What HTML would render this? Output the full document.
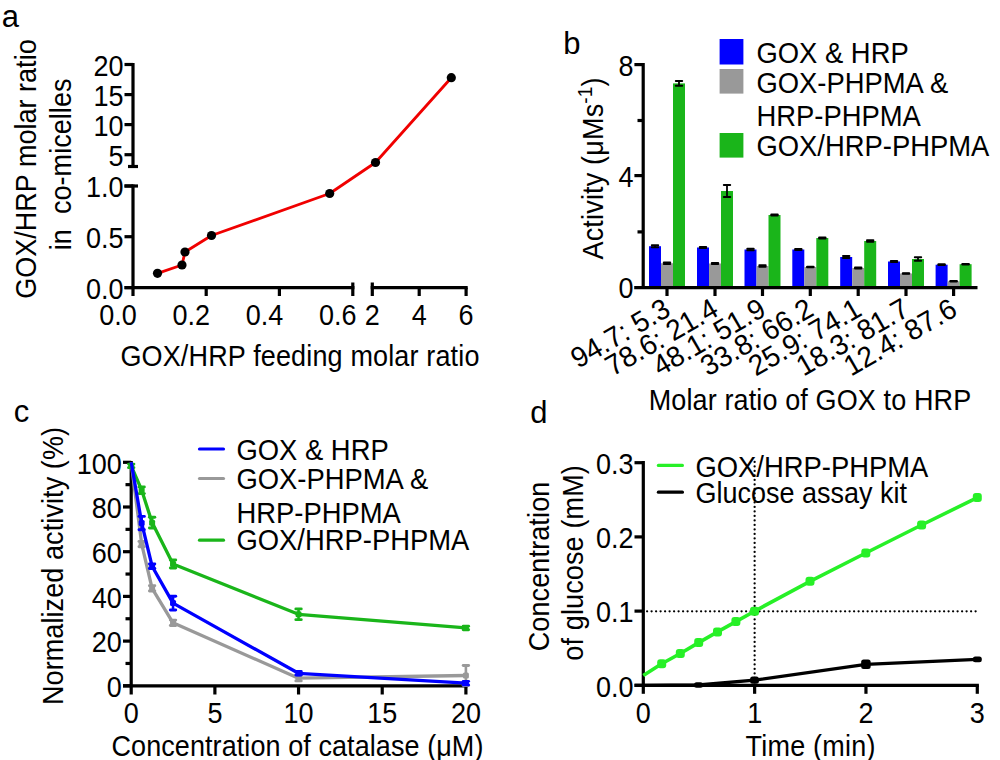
<!DOCTYPE html>
<html><head><meta charset="utf-8"><style>
html,body{margin:0;padding:0;background:#fff;width:1000px;height:760px;overflow:hidden}
svg{display:block}
text{font-family:"Liberation Sans",sans-serif}
</style></head><body>
<svg width="1000" height="760" viewBox="0 0 1000 760" fill="#000">
<rect width="1000" height="760" fill="#fff"/>
<text transform="translate(1.80,27.20)" font-size="31" text-anchor="start" >a</text>
<text transform="translate(563.30,54.40)" font-size="31" text-anchor="start" >b</text>
<text transform="translate(13.80,422.00)" font-size="31" text-anchor="start" >c</text>
<text transform="translate(530.30,422.60)" font-size="31" text-anchor="start" >d</text>
<line x1="133.00" y1="63.00" x2="133.00" y2="168.00" stroke="#000" stroke-width="3.2" stroke-linecap="butt" />
<line x1="128.00" y1="166.50" x2="138.00" y2="166.50" stroke="#000" stroke-width="3.2" stroke-linecap="butt" />
<line x1="124.50" y1="64.50" x2="133.00" y2="64.50" stroke="#000" stroke-width="3.2" stroke-linecap="butt" />
<text transform="translate(123.50,75.80) scale(1,1.07)" font-size="27" text-anchor="end" >20</text>
<line x1="124.50" y1="94.60" x2="133.00" y2="94.60" stroke="#000" stroke-width="3.2" stroke-linecap="butt" />
<text transform="translate(123.50,105.90) scale(1,1.07)" font-size="27" text-anchor="end" >15</text>
<line x1="124.50" y1="124.60" x2="133.00" y2="124.60" stroke="#000" stroke-width="3.2" stroke-linecap="butt" />
<text transform="translate(123.50,135.90) scale(1,1.07)" font-size="27" text-anchor="end" >10</text>
<line x1="124.50" y1="154.70" x2="133.00" y2="154.70" stroke="#000" stroke-width="3.2" stroke-linecap="butt" />
<text transform="translate(123.50,166.00) scale(1,1.07)" font-size="27" text-anchor="end" >5</text>
<line x1="133.00" y1="184.50" x2="133.00" y2="296.00" stroke="#000" stroke-width="3.2" stroke-linecap="butt" />
<line x1="124.50" y1="186.00" x2="138.00" y2="186.00" stroke="#000" stroke-width="3.2" stroke-linecap="butt" />
<line x1="124.50" y1="186.00" x2="133.00" y2="186.00" stroke="#000" stroke-width="3.2" stroke-linecap="butt" />
<text transform="translate(123.50,197.00) scale(1,1.07)" font-size="27" text-anchor="end" >1.0</text>
<line x1="124.50" y1="236.70" x2="133.00" y2="236.70" stroke="#000" stroke-width="3.2" stroke-linecap="butt" />
<text transform="translate(123.50,247.70) scale(1,1.07)" font-size="27" text-anchor="end" >0.5</text>
<line x1="124.50" y1="287.60" x2="133.00" y2="287.60" stroke="#000" stroke-width="3.2" stroke-linecap="butt" />
<text transform="translate(123.50,298.60) scale(1,1.07)" font-size="27" text-anchor="end" >0.0</text>
<line x1="124.50" y1="287.60" x2="354.40" y2="287.60" stroke="#000" stroke-width="3.2" stroke-linecap="butt" />
<line x1="352.80" y1="282.50" x2="352.80" y2="296.00" stroke="#000" stroke-width="3.2" stroke-linecap="butt" />
<line x1="370.70" y1="287.60" x2="467.70" y2="287.60" stroke="#000" stroke-width="3.2" stroke-linecap="butt" />
<line x1="372.30" y1="282.50" x2="372.30" y2="296.00" stroke="#000" stroke-width="3.2" stroke-linecap="butt" />
<line x1="206.20" y1="287.60" x2="206.20" y2="296.00" stroke="#000" stroke-width="3.2" stroke-linecap="butt" />
<line x1="279.40" y1="287.60" x2="279.40" y2="296.00" stroke="#000" stroke-width="3.2" stroke-linecap="butt" />
<line x1="419.20" y1="287.60" x2="419.20" y2="296.00" stroke="#000" stroke-width="3.2" stroke-linecap="butt" />
<line x1="466.10" y1="287.60" x2="466.10" y2="296.00" stroke="#000" stroke-width="3.2" stroke-linecap="butt" />
<text transform="translate(136.80,324.50) scale(1,1.07)" font-size="27" text-anchor="end" >0.0</text>
<text transform="translate(210.00,324.50) scale(1,1.07)" font-size="27" text-anchor="end" >0.2</text>
<text transform="translate(283.20,324.50) scale(1,1.07)" font-size="27" text-anchor="end" >0.4</text>
<text transform="translate(356.40,324.50) scale(1,1.07)" font-size="27" text-anchor="end" >0.6</text>
<text transform="translate(372.30,324.50) scale(1,1.07)" font-size="27" text-anchor="middle" >2</text>
<text transform="translate(419.20,324.50) scale(1,1.07)" font-size="27" text-anchor="middle" >4</text>
<text transform="translate(466.10,324.50) scale(1,1.07)" font-size="27" text-anchor="middle" >6</text>
<text transform="translate(120.40,365.50) scale(1,1.06)" font-size="27" text-anchor="start" textLength="359" lengthAdjust="spacing">GOX/HRP feeding molar ratio</text>
<text transform="translate(36.10,298.80) rotate(-90) scale(1,1.06)" font-size="27" text-anchor="start" textLength="259.5" lengthAdjust="spacing">GOX/HRP molar ratio</text>
<text transform="translate(70.50,250.30) rotate(-90) scale(1,1.06)" font-size="27" text-anchor="start" textLength="171.8" lengthAdjust="spacing">in&#160;&#160;co-micelles</text>
<polyline points="157.5,273.3 182,265 185,252 211.5,235.5 329.7,193.5 375.5,162.5 451.3,77.7" fill="none" stroke="#f00000" stroke-width="2.8" stroke-linejoin="round"/>
<circle cx="157.5" cy="273.3" r="4.6" fill="#000"/>
<circle cx="182" cy="265" r="4.6" fill="#000"/>
<circle cx="185" cy="252" r="4.6" fill="#000"/>
<circle cx="211.5" cy="235.5" r="4.6" fill="#000"/>
<circle cx="329.7" cy="193.5" r="4.6" fill="#000"/>
<circle cx="375.5" cy="162.5" r="4.6" fill="#000"/>
<circle cx="451.3" cy="77.7" r="4.6" fill="#000"/>
<line x1="643.20" y1="63.00" x2="643.20" y2="287.60" stroke="#000" stroke-width="3.2" stroke-linecap="butt" />
<line x1="634.40" y1="64.60" x2="643.20" y2="64.60" stroke="#000" stroke-width="3.2" stroke-linecap="butt" />
<line x1="637.50" y1="120.50" x2="643.20" y2="120.50" stroke="#000" stroke-width="3.2" stroke-linecap="butt" />
<line x1="634.40" y1="175.60" x2="643.20" y2="175.60" stroke="#000" stroke-width="3.2" stroke-linecap="butt" />
<line x1="637.50" y1="231.90" x2="643.20" y2="231.90" stroke="#000" stroke-width="3.2" stroke-linecap="butt" />
<text transform="translate(633.50,75.80) scale(1,1.07)" font-size="27" text-anchor="end" >8</text>
<text transform="translate(633.50,186.60) scale(1,1.07)" font-size="27" text-anchor="end" >4</text>
<text transform="translate(633.50,298.40) scale(1,1.07)" font-size="27" text-anchor="end" >0</text>
<line x1="634.20" y1="287.60" x2="977.50" y2="287.60" stroke="#000" stroke-width="3.2" stroke-linecap="butt" />
<rect x="649.00" y="246.20" width="12.00" height="39.80" rx="0" fill="#0000ff"/>
<line x1="655.00" y1="245.20" x2="655.00" y2="247.20" stroke="#000" stroke-width="1.8" stroke-linecap="butt" />
<line x1="651.80" y1="245.20" x2="658.20" y2="245.20" stroke="#000" stroke-width="2" stroke-linecap="round" />
<line x1="651.80" y1="247.20" x2="658.20" y2="247.20" stroke="#000" stroke-width="2" stroke-linecap="round" />
<rect x="661.00" y="263.20" width="12.00" height="22.80" rx="0" fill="#999999"/>
<line x1="667.00" y1="262.45" x2="667.00" y2="263.95" stroke="#000" stroke-width="1.8" stroke-linecap="butt" />
<line x1="663.80" y1="262.45" x2="670.20" y2="262.45" stroke="#000" stroke-width="2" stroke-linecap="round" />
<line x1="663.80" y1="263.95" x2="670.20" y2="263.95" stroke="#000" stroke-width="2" stroke-linecap="round" />
<rect x="673.00" y="83.40" width="12.00" height="202.60" rx="0" fill="#1ab51a"/>
<line x1="679.00" y1="81.00" x2="679.00" y2="85.80" stroke="#000" stroke-width="1.8" stroke-linecap="butt" />
<line x1="675.80" y1="81.00" x2="682.20" y2="81.00" stroke="#000" stroke-width="2" stroke-linecap="round" />
<line x1="675.80" y1="85.80" x2="682.20" y2="85.80" stroke="#000" stroke-width="2" stroke-linecap="round" />
<line x1="667.00" y1="287.60" x2="667.00" y2="296.00" stroke="#000" stroke-width="3.2" stroke-linecap="butt" />
<rect x="697.00" y="247.50" width="12.00" height="38.50" rx="0" fill="#0000ff"/>
<line x1="703.00" y1="247.00" x2="703.00" y2="248.00" stroke="#000" stroke-width="1.8" stroke-linecap="butt" />
<line x1="699.80" y1="247.00" x2="706.20" y2="247.00" stroke="#000" stroke-width="2" stroke-linecap="round" />
<line x1="699.80" y1="248.00" x2="706.20" y2="248.00" stroke="#000" stroke-width="2" stroke-linecap="round" />
<rect x="709.00" y="263.50" width="12.00" height="22.50" rx="0" fill="#999999"/>
<line x1="715.00" y1="263.00" x2="715.00" y2="264.00" stroke="#000" stroke-width="1.8" stroke-linecap="butt" />
<line x1="711.80" y1="263.00" x2="718.20" y2="263.00" stroke="#000" stroke-width="2" stroke-linecap="round" />
<line x1="711.80" y1="264.00" x2="718.20" y2="264.00" stroke="#000" stroke-width="2" stroke-linecap="round" />
<rect x="721.00" y="191.00" width="12.00" height="95.00" rx="0" fill="#1ab51a"/>
<line x1="727.00" y1="185.00" x2="727.00" y2="197.00" stroke="#000" stroke-width="1.8" stroke-linecap="butt" />
<line x1="723.80" y1="185.00" x2="730.20" y2="185.00" stroke="#000" stroke-width="2" stroke-linecap="round" />
<line x1="723.80" y1="197.00" x2="730.20" y2="197.00" stroke="#000" stroke-width="2" stroke-linecap="round" />
<line x1="715.00" y1="287.60" x2="715.00" y2="296.00" stroke="#000" stroke-width="3.2" stroke-linecap="butt" />
<rect x="744.50" y="249.50" width="12.00" height="36.50" rx="0" fill="#0000ff"/>
<line x1="750.50" y1="248.75" x2="750.50" y2="250.25" stroke="#000" stroke-width="1.8" stroke-linecap="butt" />
<line x1="747.30" y1="248.75" x2="753.70" y2="248.75" stroke="#000" stroke-width="2" stroke-linecap="round" />
<line x1="747.30" y1="250.25" x2="753.70" y2="250.25" stroke="#000" stroke-width="2" stroke-linecap="round" />
<rect x="756.50" y="266.00" width="12.00" height="20.00" rx="0" fill="#999999"/>
<line x1="762.50" y1="265.25" x2="762.50" y2="266.75" stroke="#000" stroke-width="1.8" stroke-linecap="butt" />
<line x1="759.30" y1="265.25" x2="765.70" y2="265.25" stroke="#000" stroke-width="2" stroke-linecap="round" />
<line x1="759.30" y1="266.75" x2="765.70" y2="266.75" stroke="#000" stroke-width="2" stroke-linecap="round" />
<rect x="768.50" y="215.00" width="12.00" height="71.00" rx="0" fill="#1ab51a"/>
<line x1="774.50" y1="214.50" x2="774.50" y2="215.50" stroke="#000" stroke-width="1.8" stroke-linecap="butt" />
<line x1="771.30" y1="214.50" x2="777.70" y2="214.50" stroke="#000" stroke-width="2" stroke-linecap="round" />
<line x1="771.30" y1="215.50" x2="777.70" y2="215.50" stroke="#000" stroke-width="2" stroke-linecap="round" />
<line x1="762.50" y1="287.60" x2="762.50" y2="296.00" stroke="#000" stroke-width="3.2" stroke-linecap="butt" />
<rect x="792.30" y="249.50" width="12.00" height="36.50" rx="0" fill="#0000ff"/>
<line x1="798.30" y1="249.00" x2="798.30" y2="250.00" stroke="#000" stroke-width="1.8" stroke-linecap="butt" />
<line x1="795.10" y1="249.00" x2="801.50" y2="249.00" stroke="#000" stroke-width="2" stroke-linecap="round" />
<line x1="795.10" y1="250.00" x2="801.50" y2="250.00" stroke="#000" stroke-width="2" stroke-linecap="round" />
<rect x="804.30" y="267.00" width="12.00" height="19.00" rx="0" fill="#999999"/>
<line x1="810.30" y1="266.75" x2="810.30" y2="267.25" stroke="#000" stroke-width="1.8" stroke-linecap="butt" />
<line x1="807.10" y1="266.75" x2="813.50" y2="266.75" stroke="#000" stroke-width="2" stroke-linecap="round" />
<line x1="807.10" y1="267.25" x2="813.50" y2="267.25" stroke="#000" stroke-width="2" stroke-linecap="round" />
<rect x="816.30" y="238.00" width="12.00" height="48.00" rx="0" fill="#1ab51a"/>
<line x1="822.30" y1="237.50" x2="822.30" y2="238.50" stroke="#000" stroke-width="1.8" stroke-linecap="butt" />
<line x1="819.10" y1="237.50" x2="825.50" y2="237.50" stroke="#000" stroke-width="2" stroke-linecap="round" />
<line x1="819.10" y1="238.50" x2="825.50" y2="238.50" stroke="#000" stroke-width="2" stroke-linecap="round" />
<line x1="810.30" y1="287.60" x2="810.30" y2="296.00" stroke="#000" stroke-width="3.2" stroke-linecap="butt" />
<rect x="840.20" y="257.00" width="12.00" height="29.00" rx="0" fill="#0000ff"/>
<line x1="846.20" y1="256.00" x2="846.20" y2="258.00" stroke="#000" stroke-width="1.8" stroke-linecap="butt" />
<line x1="843.00" y1="256.00" x2="849.40" y2="256.00" stroke="#000" stroke-width="2" stroke-linecap="round" />
<line x1="843.00" y1="258.00" x2="849.40" y2="258.00" stroke="#000" stroke-width="2" stroke-linecap="round" />
<rect x="852.20" y="268.00" width="12.00" height="18.00" rx="0" fill="#999999"/>
<line x1="858.20" y1="267.50" x2="858.20" y2="268.50" stroke="#000" stroke-width="1.8" stroke-linecap="butt" />
<line x1="855.00" y1="267.50" x2="861.40" y2="267.50" stroke="#000" stroke-width="2" stroke-linecap="round" />
<line x1="855.00" y1="268.50" x2="861.40" y2="268.50" stroke="#000" stroke-width="2" stroke-linecap="round" />
<rect x="864.20" y="241.00" width="12.00" height="45.00" rx="0" fill="#1ab51a"/>
<line x1="870.20" y1="240.25" x2="870.20" y2="241.75" stroke="#000" stroke-width="1.8" stroke-linecap="butt" />
<line x1="867.00" y1="240.25" x2="873.40" y2="240.25" stroke="#000" stroke-width="2" stroke-linecap="round" />
<line x1="867.00" y1="241.75" x2="873.40" y2="241.75" stroke="#000" stroke-width="2" stroke-linecap="round" />
<line x1="858.20" y1="287.60" x2="858.20" y2="296.00" stroke="#000" stroke-width="3.2" stroke-linecap="butt" />
<rect x="888.00" y="261.50" width="12.00" height="24.50" rx="0" fill="#0000ff"/>
<line x1="894.00" y1="261.00" x2="894.00" y2="262.00" stroke="#000" stroke-width="1.8" stroke-linecap="butt" />
<line x1="890.80" y1="261.00" x2="897.20" y2="261.00" stroke="#000" stroke-width="2" stroke-linecap="round" />
<line x1="890.80" y1="262.00" x2="897.20" y2="262.00" stroke="#000" stroke-width="2" stroke-linecap="round" />
<rect x="900.00" y="273.50" width="12.00" height="12.50" rx="0" fill="#999999"/>
<line x1="906.00" y1="273.25" x2="906.00" y2="273.75" stroke="#000" stroke-width="1.8" stroke-linecap="butt" />
<line x1="902.80" y1="273.25" x2="909.20" y2="273.25" stroke="#000" stroke-width="2" stroke-linecap="round" />
<line x1="902.80" y1="273.75" x2="909.20" y2="273.75" stroke="#000" stroke-width="2" stroke-linecap="round" />
<rect x="912.00" y="259.00" width="12.00" height="27.00" rx="0" fill="#1ab51a"/>
<line x1="918.00" y1="257.25" x2="918.00" y2="260.75" stroke="#000" stroke-width="1.8" stroke-linecap="butt" />
<line x1="914.80" y1="257.25" x2="921.20" y2="257.25" stroke="#000" stroke-width="2" stroke-linecap="round" />
<line x1="914.80" y1="260.75" x2="921.20" y2="260.75" stroke="#000" stroke-width="2" stroke-linecap="round" />
<line x1="906.00" y1="287.60" x2="906.00" y2="296.00" stroke="#000" stroke-width="3.2" stroke-linecap="butt" />
<rect x="935.60" y="264.70" width="12.00" height="21.30" rx="0" fill="#0000ff"/>
<line x1="941.60" y1="264.35" x2="941.60" y2="265.05" stroke="#000" stroke-width="1.8" stroke-linecap="butt" />
<line x1="938.40" y1="264.35" x2="944.80" y2="264.35" stroke="#000" stroke-width="2" stroke-linecap="round" />
<line x1="938.40" y1="265.05" x2="944.80" y2="265.05" stroke="#000" stroke-width="2" stroke-linecap="round" />
<rect x="947.60" y="281.30" width="12.00" height="4.70" rx="0" fill="#999999"/>
<line x1="953.60" y1="281.05" x2="953.60" y2="281.55" stroke="#000" stroke-width="1.8" stroke-linecap="butt" />
<line x1="950.40" y1="281.05" x2="956.80" y2="281.05" stroke="#000" stroke-width="2" stroke-linecap="round" />
<line x1="950.40" y1="281.55" x2="956.80" y2="281.55" stroke="#000" stroke-width="2" stroke-linecap="round" />
<rect x="959.60" y="264.20" width="12.00" height="21.80" rx="0" fill="#1ab51a"/>
<line x1="965.60" y1="264.00" x2="965.60" y2="264.40" stroke="#000" stroke-width="1.8" stroke-linecap="butt" />
<line x1="962.40" y1="264.00" x2="968.80" y2="264.00" stroke="#000" stroke-width="2" stroke-linecap="round" />
<line x1="962.40" y1="264.40" x2="968.80" y2="264.40" stroke="#000" stroke-width="2" stroke-linecap="round" />
<line x1="953.60" y1="287.60" x2="953.60" y2="296.00" stroke="#000" stroke-width="3.2" stroke-linecap="butt" />
<rect x="719.60" y="39.00" width="23.80" height="25.50" rx="0" fill="#0000ff"/>
<rect x="719.60" y="69.00" width="23.80" height="24.60" rx="0" fill="#999999"/>
<rect x="719.60" y="133.00" width="23.80" height="24.60" rx="0" fill="#1ab51a"/>
<text transform="translate(756.50,63.00) scale(1,1.06)" font-size="27.4" text-anchor="start" >GOX &amp; HRP</text>
<text transform="translate(756.50,92.50) scale(1,1.06)" font-size="27.4" text-anchor="start" >GOX-PHPMA &amp;</text>
<text transform="translate(756.50,125.80) scale(1,1.06)" font-size="27.4" text-anchor="start" >HRP-PHPMA</text>
<text transform="translate(756.50,156.40) scale(1,1.06)" font-size="27.4" text-anchor="start" >GOX/HRP-PHPMA</text>
<text transform="translate(603.10,259.50) rotate(-90) scale(1,1.06)" font-size="27" text-anchor="start" textLength="182.1" lengthAdjust="spacing">Activity (μMs<tspan font-size="19" dy="-10.5">-1</tspan><tspan dy="10.5">)</tspan></text>
<text transform="translate(672.30,314.50) rotate(-30) scale(1,1.03)" font-size="28" text-anchor="end" >94.7: 5.3</text>
<text transform="translate(720.30,314.50) rotate(-30) scale(1,1.03)" font-size="28" text-anchor="end" >78.6: 21.4</text>
<text transform="translate(767.80,314.50) rotate(-30) scale(1,1.03)" font-size="28" text-anchor="end" >48.1: 51.9</text>
<text transform="translate(815.60,314.50) rotate(-30) scale(1,1.03)" font-size="28" text-anchor="end" >33.8: 66.2</text>
<text transform="translate(863.50,314.50) rotate(-30) scale(1,1.03)" font-size="28" text-anchor="end" >25.9: 74.1</text>
<text transform="translate(911.30,314.50) rotate(-30) scale(1,1.03)" font-size="28" text-anchor="end" >18.3: 81.7</text>
<text transform="translate(958.90,314.50) rotate(-30) scale(1,1.03)" font-size="28" text-anchor="end" >12.4: 87.6</text>
<text transform="translate(648.70,410.20) scale(1,1.06)" font-size="27" text-anchor="start" textLength="322.5" lengthAdjust="spacing">Molar ratio of GOX to HRP</text>
<line x1="131.20" y1="461.00" x2="131.20" y2="694.50" stroke="#000" stroke-width="3.2" stroke-linecap="butt" />
<line x1="123.00" y1="685.80" x2="131.20" y2="685.80" stroke="#000" stroke-width="3.2" stroke-linecap="butt" />
<text transform="translate(121.80,697.10) scale(1,1.07)" font-size="27" text-anchor="end" >0</text>
<line x1="125.50" y1="663.45" x2="131.20" y2="663.45" stroke="#000" stroke-width="3.2" stroke-linecap="butt" />
<line x1="123.00" y1="641.10" x2="131.20" y2="641.10" stroke="#000" stroke-width="3.2" stroke-linecap="butt" />
<text transform="translate(121.80,652.40) scale(1,1.07)" font-size="27" text-anchor="end" >20</text>
<line x1="125.50" y1="618.75" x2="131.20" y2="618.75" stroke="#000" stroke-width="3.2" stroke-linecap="butt" />
<line x1="123.00" y1="596.40" x2="131.20" y2="596.40" stroke="#000" stroke-width="3.2" stroke-linecap="butt" />
<text transform="translate(121.80,607.70) scale(1,1.07)" font-size="27" text-anchor="end" >40</text>
<line x1="125.50" y1="574.05" x2="131.20" y2="574.05" stroke="#000" stroke-width="3.2" stroke-linecap="butt" />
<line x1="123.00" y1="551.70" x2="131.20" y2="551.70" stroke="#000" stroke-width="3.2" stroke-linecap="butt" />
<text transform="translate(121.80,563.00) scale(1,1.07)" font-size="27" text-anchor="end" >60</text>
<line x1="125.50" y1="529.35" x2="131.20" y2="529.35" stroke="#000" stroke-width="3.2" stroke-linecap="butt" />
<line x1="123.00" y1="507.00" x2="131.20" y2="507.00" stroke="#000" stroke-width="3.2" stroke-linecap="butt" />
<text transform="translate(121.80,518.30) scale(1,1.07)" font-size="27" text-anchor="end" >80</text>
<line x1="125.50" y1="484.65" x2="131.20" y2="484.65" stroke="#000" stroke-width="3.2" stroke-linecap="butt" />
<line x1="123.00" y1="462.30" x2="131.20" y2="462.30" stroke="#000" stroke-width="3.2" stroke-linecap="butt" />
<text transform="translate(121.80,473.60) scale(1,1.07)" font-size="27" text-anchor="end" >100</text>
<line x1="123.00" y1="685.80" x2="467.50" y2="685.80" stroke="#000" stroke-width="3.2" stroke-linecap="butt" />
<line x1="214.88" y1="685.80" x2="214.88" y2="694.50" stroke="#000" stroke-width="3.2" stroke-linecap="butt" />
<line x1="298.55" y1="685.80" x2="298.55" y2="694.50" stroke="#000" stroke-width="3.2" stroke-linecap="butt" />
<line x1="382.22" y1="685.80" x2="382.22" y2="694.50" stroke="#000" stroke-width="3.2" stroke-linecap="butt" />
<line x1="465.90" y1="685.80" x2="465.90" y2="694.50" stroke="#000" stroke-width="3.2" stroke-linecap="butt" />
<text transform="translate(131.20,723.10) scale(1,1.07)" font-size="27" text-anchor="middle" >0</text>
<text transform="translate(214.88,723.10) scale(1,1.07)" font-size="27" text-anchor="middle" >5</text>
<text transform="translate(298.55,723.10) scale(1,1.07)" font-size="27" text-anchor="middle" >10</text>
<text transform="translate(382.22,723.10) scale(1,1.07)" font-size="27" text-anchor="middle" >15</text>
<text transform="translate(465.90,723.10) scale(1,1.07)" font-size="27" text-anchor="middle" >20</text>
<text transform="translate(111.50,756.30) scale(1,1.06)" font-size="27" text-anchor="start" textLength="371.9" lengthAdjust="spacing">Concentration of catalase (μM)</text>
<text transform="translate(62.90,705.00) rotate(-90) scale(1,1.06)" font-size="27" text-anchor="start" textLength="278" lengthAdjust="spacing">Normalized activity (%)</text>
<polyline points="131.2,462.3 141.7,544.1 152.1,588.4 173.0,622.8 298.5,678.2 465.9,675.5" fill="none" stroke="#999999" stroke-width="3.3" stroke-linejoin="round"/>
<line x1="141.66" y1="541.42" x2="141.66" y2="546.78" stroke="#999999" stroke-width="2.6" stroke-linecap="butt" />
<line x1="138.96" y1="541.42" x2="144.36" y2="541.42" stroke="#999999" stroke-width="2.9" stroke-linecap="round" />
<line x1="138.96" y1="546.78" x2="144.36" y2="546.78" stroke="#999999" stroke-width="2.9" stroke-linecap="round" />
<rect x="138.66" y="541.10" width="6.00" height="6.00" rx="1.5" fill="#999999"/>
<line x1="152.12" y1="585.67" x2="152.12" y2="591.04" stroke="#999999" stroke-width="2.6" stroke-linecap="butt" />
<line x1="149.42" y1="585.67" x2="154.82" y2="585.67" stroke="#999999" stroke-width="2.9" stroke-linecap="round" />
<line x1="149.42" y1="591.04" x2="154.82" y2="591.04" stroke="#999999" stroke-width="2.9" stroke-linecap="round" />
<rect x="149.12" y="585.35" width="6.00" height="6.00" rx="1.5" fill="#999999"/>
<line x1="173.04" y1="620.09" x2="173.04" y2="625.45" stroke="#999999" stroke-width="2.6" stroke-linecap="butt" />
<line x1="170.34" y1="620.09" x2="175.74" y2="620.09" stroke="#999999" stroke-width="2.9" stroke-linecap="round" />
<line x1="170.34" y1="625.45" x2="175.74" y2="625.45" stroke="#999999" stroke-width="2.9" stroke-linecap="round" />
<rect x="170.04" y="619.77" width="6.00" height="6.00" rx="1.5" fill="#999999"/>
<line x1="298.55" y1="675.52" x2="298.55" y2="680.88" stroke="#999999" stroke-width="2.6" stroke-linecap="butt" />
<line x1="295.85" y1="675.52" x2="301.25" y2="675.52" stroke="#999999" stroke-width="2.9" stroke-linecap="round" />
<line x1="295.85" y1="680.88" x2="301.25" y2="680.88" stroke="#999999" stroke-width="2.9" stroke-linecap="round" />
<rect x="295.55" y="675.20" width="6.00" height="6.00" rx="1.5" fill="#999999"/>
<line x1="465.90" y1="665.46" x2="465.90" y2="685.58" stroke="#999999" stroke-width="2.6" stroke-linecap="butt" />
<line x1="463.20" y1="665.46" x2="468.60" y2="665.46" stroke="#999999" stroke-width="2.9" stroke-linecap="round" />
<line x1="463.20" y1="685.58" x2="468.60" y2="685.58" stroke="#999999" stroke-width="2.9" stroke-linecap="round" />
<rect x="462.90" y="672.52" width="6.00" height="6.00" rx="1.5" fill="#999999"/>
<polyline points="131.2,465.9 141.7,490.2 152.1,522.6 173.0,564.0 298.5,614.3 465.9,627.9" fill="none" stroke="#1ab51a" stroke-width="3.3" stroke-linejoin="round"/>
<line x1="131.20" y1="464.09" x2="131.20" y2="467.66" stroke="#1ab51a" stroke-width="2.6" stroke-linecap="butt" />
<line x1="128.50" y1="464.09" x2="133.90" y2="464.09" stroke="#1ab51a" stroke-width="2.9" stroke-linecap="round" />
<line x1="128.50" y1="467.66" x2="133.90" y2="467.66" stroke="#1ab51a" stroke-width="2.9" stroke-linecap="round" />
<rect x="128.20" y="462.88" width="6.00" height="6.00" rx="1.5" fill="#1ab51a"/>
<line x1="141.66" y1="486.88" x2="141.66" y2="493.59" stroke="#1ab51a" stroke-width="2.6" stroke-linecap="butt" />
<line x1="138.96" y1="486.88" x2="144.36" y2="486.88" stroke="#1ab51a" stroke-width="2.9" stroke-linecap="round" />
<line x1="138.96" y1="493.59" x2="144.36" y2="493.59" stroke="#1ab51a" stroke-width="2.9" stroke-linecap="round" />
<rect x="138.66" y="487.24" width="6.00" height="6.00" rx="1.5" fill="#1ab51a"/>
<line x1="152.12" y1="517.28" x2="152.12" y2="528.01" stroke="#1ab51a" stroke-width="2.6" stroke-linecap="butt" />
<line x1="149.42" y1="517.28" x2="154.82" y2="517.28" stroke="#1ab51a" stroke-width="2.9" stroke-linecap="round" />
<line x1="149.42" y1="528.01" x2="154.82" y2="528.01" stroke="#1ab51a" stroke-width="2.9" stroke-linecap="round" />
<rect x="149.12" y="519.64" width="6.00" height="6.00" rx="1.5" fill="#1ab51a"/>
<line x1="173.04" y1="559.97" x2="173.04" y2="568.02" stroke="#1ab51a" stroke-width="2.6" stroke-linecap="butt" />
<line x1="170.34" y1="559.97" x2="175.74" y2="559.97" stroke="#1ab51a" stroke-width="2.9" stroke-linecap="round" />
<line x1="170.34" y1="568.02" x2="175.74" y2="568.02" stroke="#1ab51a" stroke-width="2.9" stroke-linecap="round" />
<rect x="170.04" y="560.99" width="6.00" height="6.00" rx="1.5" fill="#1ab51a"/>
<line x1="298.55" y1="608.92" x2="298.55" y2="619.64" stroke="#1ab51a" stroke-width="2.6" stroke-linecap="butt" />
<line x1="295.85" y1="608.92" x2="301.25" y2="608.92" stroke="#1ab51a" stroke-width="2.9" stroke-linecap="round" />
<line x1="295.85" y1="619.64" x2="301.25" y2="619.64" stroke="#1ab51a" stroke-width="2.9" stroke-linecap="round" />
<rect x="295.55" y="611.28" width="6.00" height="6.00" rx="1.5" fill="#1ab51a"/>
<line x1="465.90" y1="626.13" x2="465.90" y2="629.70" stroke="#1ab51a" stroke-width="2.6" stroke-linecap="butt" />
<line x1="463.20" y1="626.13" x2="468.60" y2="626.13" stroke="#1ab51a" stroke-width="2.9" stroke-linecap="round" />
<line x1="463.20" y1="629.70" x2="468.60" y2="629.70" stroke="#1ab51a" stroke-width="2.9" stroke-linecap="round" />
<rect x="462.90" y="624.91" width="6.00" height="6.00" rx="1.5" fill="#1ab51a"/>
<polyline points="131.2,462.3 141.7,523.1 152.1,566.2 173.0,603.1 298.5,673.3 465.9,683.1" fill="none" stroke="#0000ff" stroke-width="3.3" stroke-linejoin="round"/>
<line x1="141.66" y1="516.39" x2="141.66" y2="529.80" stroke="#0000ff" stroke-width="2.6" stroke-linecap="butt" />
<line x1="138.96" y1="516.39" x2="144.36" y2="516.39" stroke="#0000ff" stroke-width="2.9" stroke-linecap="round" />
<line x1="138.96" y1="529.80" x2="144.36" y2="529.80" stroke="#0000ff" stroke-width="2.9" stroke-linecap="round" />
<rect x="138.66" y="520.09" width="6.00" height="6.00" rx="1.5" fill="#0000ff"/>
<line x1="152.12" y1="563.99" x2="152.12" y2="568.46" stroke="#0000ff" stroke-width="2.6" stroke-linecap="butt" />
<line x1="149.42" y1="563.99" x2="154.82" y2="563.99" stroke="#0000ff" stroke-width="2.9" stroke-linecap="round" />
<line x1="149.42" y1="568.46" x2="154.82" y2="568.46" stroke="#0000ff" stroke-width="2.9" stroke-linecap="round" />
<rect x="149.12" y="563.23" width="6.00" height="6.00" rx="1.5" fill="#0000ff"/>
<line x1="173.04" y1="596.18" x2="173.04" y2="610.03" stroke="#0000ff" stroke-width="2.6" stroke-linecap="butt" />
<line x1="170.34" y1="596.18" x2="175.74" y2="596.18" stroke="#0000ff" stroke-width="2.9" stroke-linecap="round" />
<line x1="170.34" y1="610.03" x2="175.74" y2="610.03" stroke="#0000ff" stroke-width="2.9" stroke-linecap="round" />
<rect x="170.04" y="600.11" width="6.00" height="6.00" rx="1.5" fill="#0000ff"/>
<line x1="298.55" y1="671.50" x2="298.55" y2="675.07" stroke="#0000ff" stroke-width="2.6" stroke-linecap="butt" />
<line x1="295.85" y1="671.50" x2="301.25" y2="671.50" stroke="#0000ff" stroke-width="2.9" stroke-linecap="round" />
<line x1="295.85" y1="675.07" x2="301.25" y2="675.07" stroke="#0000ff" stroke-width="2.9" stroke-linecap="round" />
<rect x="295.55" y="670.28" width="6.00" height="6.00" rx="1.5" fill="#0000ff"/>
<line x1="465.90" y1="681.33" x2="465.90" y2="684.91" stroke="#0000ff" stroke-width="2.6" stroke-linecap="butt" />
<line x1="463.20" y1="681.33" x2="468.60" y2="681.33" stroke="#0000ff" stroke-width="2.9" stroke-linecap="round" />
<line x1="463.20" y1="684.91" x2="468.60" y2="684.91" stroke="#0000ff" stroke-width="2.9" stroke-linecap="round" />
<rect x="462.90" y="680.12" width="6.00" height="6.00" rx="1.5" fill="#0000ff"/>
<line x1="199.50" y1="449.00" x2="223.50" y2="449.00" stroke="#0000ff" stroke-width="3.2" stroke-linecap="round" />
<line x1="199.50" y1="478.50" x2="223.50" y2="478.50" stroke="#999999" stroke-width="3.2" stroke-linecap="round" />
<line x1="199.50" y1="540.20" x2="223.50" y2="540.20" stroke="#1ab51a" stroke-width="3.2" stroke-linecap="round" />
<text transform="translate(236.50,459.90) scale(1,1.06)" font-size="27.4" text-anchor="start" >GOX &amp; HRP</text>
<text transform="translate(236.50,488.90) scale(1,1.06)" font-size="27.4" text-anchor="start" >GOX-PHPMA &amp;</text>
<text transform="translate(236.50,522.80) scale(1,1.06)" font-size="27.4" text-anchor="start" >HRP-PHPMA</text>
<text transform="translate(236.50,550.40) scale(1,1.06)" font-size="27.4" text-anchor="start" >GOX/HRP-PHPMA</text>
<line x1="754.63" y1="461.9" x2="754.63" y2="685" stroke="#000" stroke-width="2.3" stroke-linecap="round" stroke-dasharray="0.01 4.49"/>
<line x1="647.1" y1="611.3" x2="976" y2="611.3" stroke="#000" stroke-width="2.3" stroke-linecap="round" stroke-dasharray="0.01 4.49"/>
<line x1="643.30" y1="461.00" x2="643.30" y2="693.80" stroke="#000" stroke-width="3.2" stroke-linecap="butt" />
<line x1="634.50" y1="462.70" x2="643.30" y2="462.70" stroke="#000" stroke-width="3.2" stroke-linecap="butt" />
<text transform="translate(633.50,474.00) scale(1,1.07)" font-size="27" text-anchor="end" >0.3</text>
<line x1="634.50" y1="536.90" x2="643.30" y2="536.90" stroke="#000" stroke-width="3.2" stroke-linecap="butt" />
<text transform="translate(633.50,548.20) scale(1,1.07)" font-size="27" text-anchor="end" >0.2</text>
<line x1="634.50" y1="611.10" x2="643.30" y2="611.10" stroke="#000" stroke-width="3.2" stroke-linecap="butt" />
<text transform="translate(633.50,622.40) scale(1,1.07)" font-size="27" text-anchor="end" >0.1</text>
<line x1="634.50" y1="685.30" x2="643.30" y2="685.30" stroke="#000" stroke-width="3.2" stroke-linecap="butt" />
<text transform="translate(633.50,696.60) scale(1,1.07)" font-size="27" text-anchor="end" >0.0</text>
<line x1="634.50" y1="685.30" x2="978.90" y2="685.30" stroke="#000" stroke-width="3.2" stroke-linecap="butt" />
<line x1="754.63" y1="685.30" x2="754.63" y2="693.80" stroke="#000" stroke-width="3.2" stroke-linecap="butt" />
<line x1="865.96" y1="685.30" x2="865.96" y2="693.80" stroke="#000" stroke-width="3.2" stroke-linecap="butt" />
<line x1="977.29" y1="685.30" x2="977.29" y2="693.80" stroke="#000" stroke-width="3.2" stroke-linecap="butt" />
<text transform="translate(643.30,722.60) scale(1,1.07)" font-size="27" text-anchor="middle" >0</text>
<text transform="translate(754.63,722.60) scale(1,1.07)" font-size="27" text-anchor="middle" >1</text>
<text transform="translate(865.96,722.60) scale(1,1.07)" font-size="27" text-anchor="middle" >2</text>
<text transform="translate(977.29,722.60) scale(1,1.07)" font-size="27" text-anchor="middle" >3</text>
<text transform="translate(745.50,756.30) scale(1,1.06)" font-size="27" text-anchor="start" textLength="130" lengthAdjust="spacing">Time (min)</text>
<text transform="translate(549.00,651.30) rotate(-90) scale(1,1.06)" font-size="27" text-anchor="start" textLength="169.6" lengthAdjust="spacing">Concentration</text>
<text transform="translate(583.10,660.70) rotate(-90) scale(1,1.06)" font-size="27" text-anchor="start" textLength="195.5" lengthAdjust="spacing">of glucose (mM)</text>
<polyline points="643.3,685.3 698.5,685 754.5,680.2 865.9,664.3 977.3,659.4" fill="none" stroke="#000" stroke-width="3.3" stroke-linejoin="round"/>
<rect x="694.00" y="682.25" width="9.00" height="5.50" rx="2.5" fill="#000"/>
<rect x="750.10" y="676.60" width="8.80" height="7.20" rx="2.5" fill="#000"/>
<rect x="861.15" y="659.55" width="9.50" height="9.50" rx="2.5" fill="#000"/>
<rect x="972.80" y="656.60" width="9.00" height="5.60" rx="2.5" fill="#000"/>
<polyline points="643.3,675.5 661.7,663.8 680.3,653.5 698.7,642.6 717.5,631.9 735.9,621.6 754.5,611.2 810,581.3 865.8,553 921.6,525 977.3,497.6" fill="none" stroke="#27f027" stroke-width="3.6" stroke-linejoin="round"/>
<rect x="657.20" y="659.30" width="9.00" height="9.00" rx="3" fill="#27f027"/>
<rect x="675.80" y="649.00" width="9.00" height="9.00" rx="3" fill="#27f027"/>
<rect x="694.20" y="638.10" width="9.00" height="9.00" rx="3" fill="#27f027"/>
<rect x="713.00" y="627.40" width="9.00" height="9.00" rx="3" fill="#27f027"/>
<rect x="731.40" y="617.10" width="9.00" height="9.00" rx="3" fill="#27f027"/>
<rect x="750.00" y="606.70" width="9.00" height="9.00" rx="3" fill="#27f027"/>
<rect x="805.50" y="576.80" width="9.00" height="9.00" rx="3" fill="#27f027"/>
<rect x="861.30" y="548.50" width="9.00" height="9.00" rx="3" fill="#27f027"/>
<rect x="917.10" y="520.50" width="9.00" height="9.00" rx="3" fill="#27f027"/>
<rect x="972.80" y="493.10" width="9.00" height="9.00" rx="3" fill="#27f027"/>
<line x1="658.40" y1="465.40" x2="682.40" y2="465.40" stroke="#27f027" stroke-width="3.2" stroke-linecap="round" />
<line x1="658.40" y1="492.20" x2="682.40" y2="492.20" stroke="#000" stroke-width="3.2" stroke-linecap="round" />
<text transform="translate(695.50,476.50) scale(1,1.06)" font-size="27.4" text-anchor="start" >GOX/HRP-PHPMA</text>
<text transform="translate(695.50,503.00) scale(1,1.06)" font-size="27" text-anchor="start" >Glucose assay kit</text>
</svg></body></html>
